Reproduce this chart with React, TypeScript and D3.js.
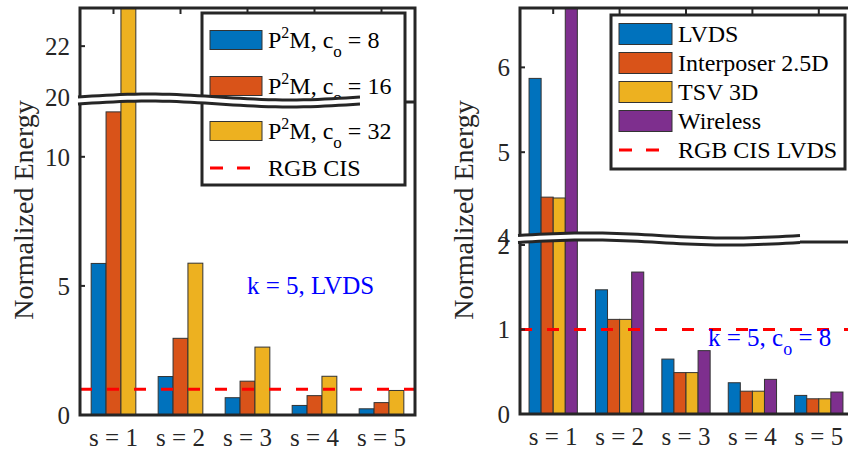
import React from 'react'
import * as d3 from 'd3'

const categories = ['s = 1', 's = 2', 's = 3', 's = 4', 's = 5']

// left panel: k = 5, LVDS
const p2mC8 = [5.87, 1.49, 0.67, 0.37, 0.24]
const p2mC16 = [11.74, 2.97, 1.31, 0.75, 0.48]
const p2mC32 = [23.6, 5.88, 2.63, 1.5, 0.95]
const rgbCis = 1

// right panel: k = 5, c_o = 8
const lvds = [5.87, 1.47, 0.65, 0.37, 0.22]
const interposer = [4.47, 1.12, 0.49, 0.27, 0.18]
const tsv3d = [4.46, 1.12, 0.49, 0.27, 0.18]
const wireless = [7.2, 1.68, 0.75, 0.41, 0.26]
const rgbCisLvds = 1

const leftTicksLow = [0, 5, 10]
const leftTicksHigh = [20, 22]
const rightTicksLow = [0, 1, 2]
const rightTicksHigh = [4, 5, 6]

const colors = ['#0072BD', '#D95319', '#EDB120', '#7E2F8E']
const ink = '#262626'
const FONT = "'Liberation Serif', 'Times New Roman', Times, serif"

function waveLine(x0: number, x1: number, yc: number, amp: number) {
  return d3.range(0, 41).map(i => {
    const t = i / 40
    return [x0 + t * (x1 - x0), yc - amp * Math.sin(2 * Math.PI * t)] as [number, number]
  })
}

function BreakMark({ x0, x1, yc, amp }: any) {
  const top = waveLine(x0, x1, yc - 3.5, amp)
  const bot = waveLine(x0, x1, yc + 3.5, amp)
  const line = d3.line()
  return (
    <g>
      <path d={line(top.concat(bot.slice().reverse())) + 'Z'} fill="#fff" />
      <path d={line(top)!} fill="none" stroke={ink} strokeWidth={3} />
      <path d={line(bot)!} fill="none" stroke={ink} strokeWidth={3} />
    </g>
  )
}

function Panel({ id, left, right, top, bottom, lowDomain, lowRange, highDomain, highRange,
  series, ticksLow, ticksHigh, refValue, legend, breakMark, straight, note }: any) {
  const yLow = d3.scaleLinear().domain(lowDomain).range(lowRange)
  const yHigh = d3.scaleLinear().domain(highDomain).range(highRange)
  const y = (v: number) => (v <= lowDomain[1] ? yLow(v) : yHigh(v))
  const x = d3.scaleBand().domain(categories).range([left, right])
  const n = series.length
  const groupW = x.bandwidth() * Math.min(0.8, n / (n + 1.5))
  const inner = d3.scaleBand().domain(d3.range(n).map(String)).range([-groupW / 2, groupW / 2])
  const cx = (c: string) => x(c)! + x.bandwidth() / 2

  return (
    <g>
      <defs>
        <clipPath id={id}>
          <rect x={left} y={top} width={right - left} height={bottom - top} />
        </clipPath>
      </defs>
      <g clipPath={`url(#${id})`}>
        {series.map((s: number[], si: number) =>
          s.map((v, i) => (
            <rect key={si + '-' + i}
              x={cx(categories[i]) + inner(String(si))!}
              y={y(v)}
              width={inner.bandwidth()}
              height={yLow(0) - y(v)}
              fill={colors[si]} stroke="#333" strokeWidth={1} />
          ))
        )}
      </g>
      <line x1={left} x2={right} y1={y(refValue)} y2={y(refValue)}
        stroke="#ff0000" strokeWidth={3} strokeDasharray="12 15" />
      {/* axes box */}
      <rect x={left} y={top} width={right - left} height={bottom - top}
        fill="none" stroke={ink} strokeWidth={3} />
      {categories.map(c => (
        <g key={c}>
          <line x1={cx(c)} x2={cx(c)} y1={top} y2={top + 6} stroke={ink} strokeWidth={2} />
          <text x={cx(c)} y={bottom + 31} textAnchor="middle" fontSize={25} fill={ink}>{c}</text>
        </g>
      ))}
      {ticksLow.map((t: number) => (
        <g key={'l' + t}>
          <line x1={left} x2={left + 5} y1={yLow(t)} y2={yLow(t)} stroke={ink} strokeWidth={2} />
          <text x={left - 10} y={yLow(t)} dy="0.35em" textAnchor="end" fontSize={25} fill={ink}>{t}</text>
        </g>
      ))}
      {ticksHigh.map((t: number) => (
        <g key={'h' + t}>
          <line x1={left} x2={left + 5} y1={yHigh(t)} y2={yHigh(t)} stroke={ink} strokeWidth={2} />
          <text x={left - 10} y={yHigh(t)} dy="0.35em" textAnchor="end" fontSize={25} fill={ink}>{t}</text>
        </g>
      ))}
      <line x1={breakMark.x1} x2={right} y1={straight} y2={straight} stroke={ink} strokeWidth={3} />
      {legend}
      <BreakMark {...breakMark} />
      {note}
      <text transform={`translate(${left - 57},210) rotate(-90)`} textAnchor="middle" dy="0.35em"
        fontSize={28} fill={ink}>Normalized Energy</text>
    </g>
  )
}

function Legend({ x, y, w, h, sw, rows, offsets }: any) {
  return (
    <g>
      <rect x={x} y={y} width={w} height={h} fill="#fff" stroke={ink} strokeWidth={3} />
      {rows.map((r: any, i: number) => {
        const cy = y + offsets[i]
        return (
          <g key={i}>
            {r.color
              ? <rect x={x + 8} y={cy - sw[1] / 2} width={sw[0]} height={sw[1]} fill={r.color} stroke="#333" strokeWidth={1} />
              : <line x1={x + 8} x2={x + 8 + sw[0]} y1={cy} y2={cy} stroke="#ff0000" strokeWidth={3} strokeDasharray="13 14" />}
            <text x={x + sw[0] + 14} y={cy + 8} fontSize={24} fill="#000">{r.label}</text>
          </g>
        )
      })}
    </g>
  )
}

const p2m = (co: string) => (
  <>
    <tspan>P</tspan><tspan dy={-10} fontSize={16}>2</tspan><tspan dy={10}>M, c</tspan>
    <tspan dy={9} fontSize={17}>o</tspan><tspan dy={-9}>{' = ' + co}</tspan>
  </>
)

export default function App() {
  return (
    <svg width={848} height={451}
      style={{ position: 'absolute', left: 0, top: 0, background: '#fff', fontFamily: FONT }}>
      <Panel id="clipL" left={80} right={415} top={8} bottom={415}
        lowDomain={[0, 12.2]} lowRange={[415, 100]}
        highDomain={[20, 23.5]} highRange={[97, 8]}
        series={[p2mC8, p2mC16, p2mC32]}
        ticksLow={leftTicksLow} ticksHigh={leftTicksHigh} refValue={rgbCis}
        straight={102}
        breakMark={{ x0: 78, x1: 360, yc: 100.5, amp: 3 }}
        legend={<Legend x={202} y={13} w={203} h={172} sw={[52, 19]} offsets={[27, 73, 118, 155]}
          rows={[
            { color: colors[0], label: p2m('8') },
            { color: colors[1], label: p2m('16') },
            { color: colors[2], label: p2m('32') },
            { label: 'RGB CIS' },
          ]} />}
        note={<text x={247} y={294} fontSize={25} fill="#0000ff">k = 5, LVDS</text>}
      />
      <Panel id="clipR" left={520} right={852} top={8} bottom={414}
        lowDomain={[0, 2.05]} lowRange={[414, 240.8]}
        highDomain={[4, 6.7]} highRange={[237, 8]}
        series={[lvds, interposer, tsv3d, wireless]}
        ticksLow={rightTicksLow} ticksHigh={rightTicksHigh} refValue={rgbCisLvds}
        straight={242}
        breakMark={{ x0: 518, x1: 800, yc: 239, amp: 2.5 }}
        legend={<Legend x={611} y={15} w={234} h={154} sw={[53, 21]} offsets={[19, 48, 77, 106, 135]}
          rows={[
            { color: colors[0], label: 'LVDS' },
            { color: colors[1], label: 'Interposer 2.5D' },
            { color: colors[2], label: 'TSV 3D' },
            { color: colors[3], label: 'Wireless' },
            { label: 'RGB CIS LVDS' },
          ]} />}
        note={<text x={708} y={346} fontSize={25} fill="#0000ff">
          k = 5, c<tspan dy={9} fontSize={18}>o</tspan><tspan dy={-9}> = 8</tspan></text>}
      />
    </svg>
  )
}
